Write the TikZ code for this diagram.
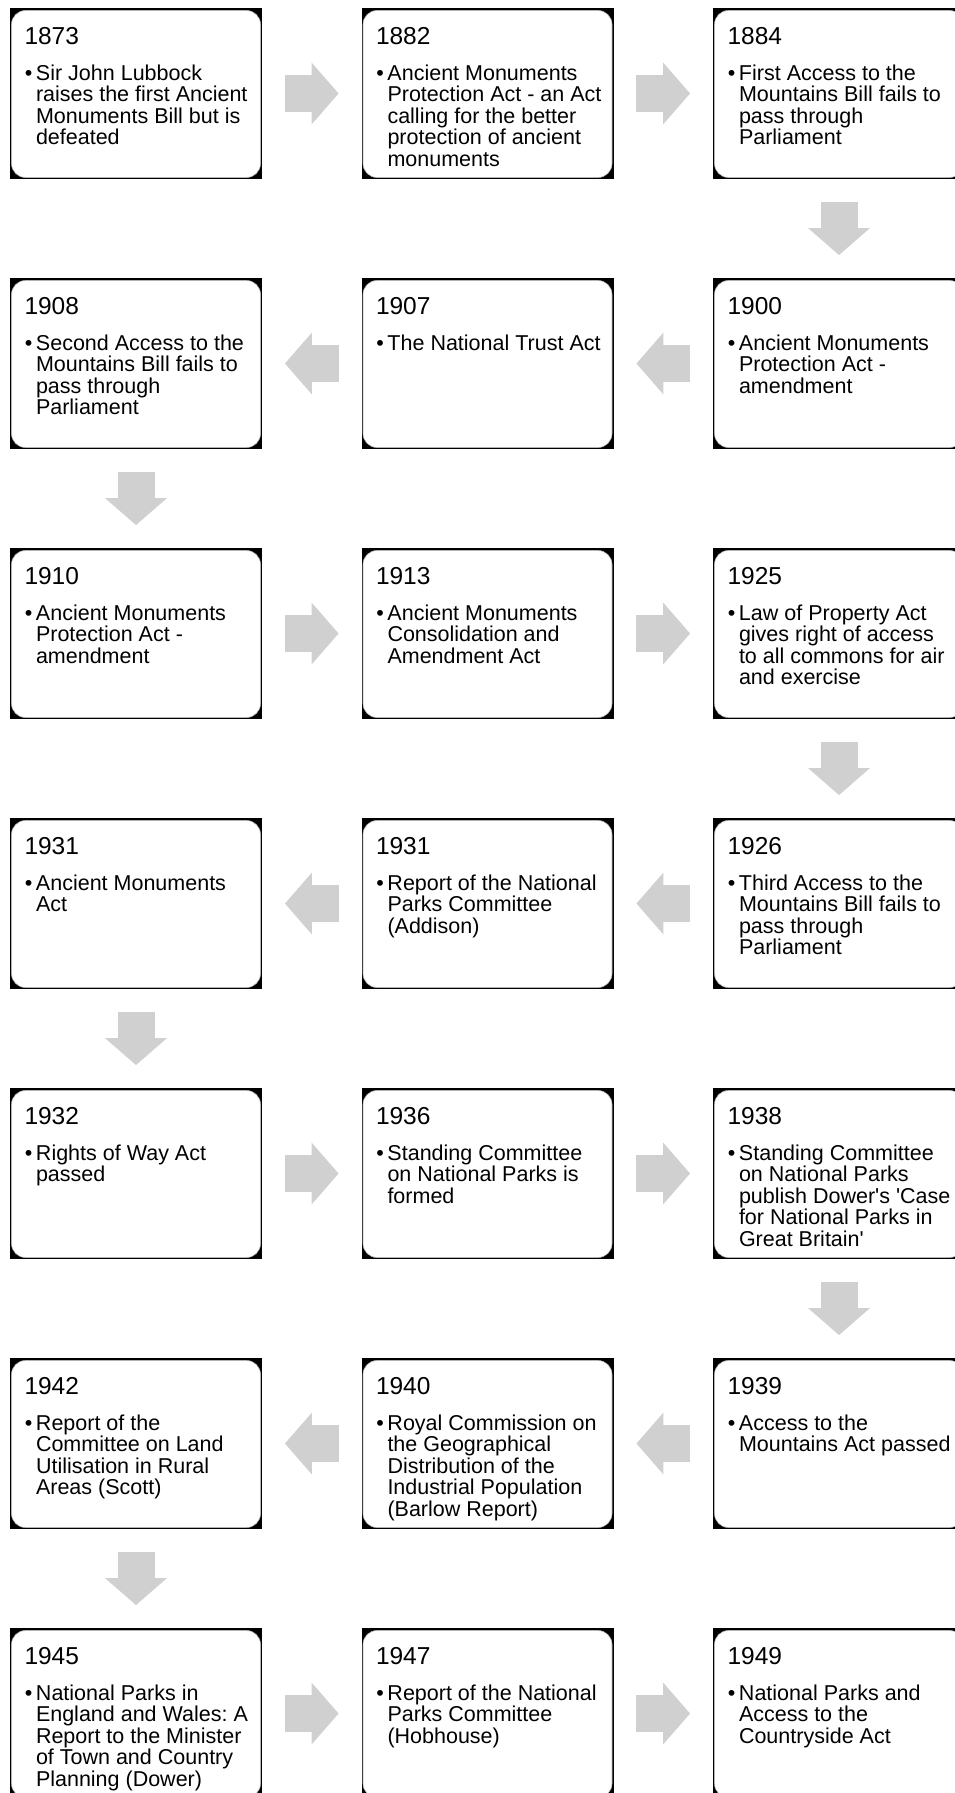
\documentclass[tikz,border=0pt]{standalone}
\usepackage{fontspec}
\setmainfont{Liberation Sans}
\usepackage{tikz}
\usetikzlibrary{arrows.meta, calc}
\definecolor{arrowgray}{RGB}{208, 208, 208}
\newcommand{\evbullet}{\rule{0pt}{16pt}\llap{\textbullet\hspace{3.5pt}}}
\frenchspacing

\begin{document}
\begin{tikzpicture}[
			x=1pt, y=-1pt,
			card/.style={rectangle, fill=black, minimum width=252pt, minimum height=171pt, inner sep=0pt,
				path picture={\fill[white, draw=gray!60, line width=0.6pt, rounded corners=14pt]
					([shift={(1.5pt,-2.5pt)}]path picture bounding box.north west) rectangle
					([shift={(-1.5pt,1.5pt)}]path picture bounding box.south east);}},
			year/.style={anchor=base west, inner sep=0pt, font=\fontsize{24.5}{28}\selectfont},
			entry/.style={anchor=north west, inner sep=0pt, align=left, font=\fontsize{21.5}{21.5}\selectfont},
			flow/.style={draw=arrowgray, line width=37pt, -{Triangle[width=62pt, length=27pt, line width=0pt]},
				shorten <=22.75pt, shorten >=22.75pt}
		]
		\clip (0,0) rectangle (955,1793);
		
		% Row 1
		\node[card] (e1873) at (136,93.5) {};
		\node[year] at ([xshift=14.5pt, yshift=-37pt]e1873.north west) {1873};
		\node[entry] at ([xshift=26pt, yshift=-56pt]e1873.north west) {\evbullet Sir John Lubbock\\raises the first Ancient\\Monuments Bill but is\\defeated};
		\node[card] (e1882) at (487.5,93.5) {};
		\node[year] at ([xshift=14.5pt, yshift=-37pt]e1882.north west) {1882};
		\node[entry] at ([xshift=26pt, yshift=-56pt]e1882.north west) {\evbullet Ancient Monuments\\Protection Act - an Act\\calling for the better\\protection of ancient\\monuments};
		\node[card] (e1884) at (839,93.5) {};
		\node[year] at ([xshift=14.5pt, yshift=-37pt]e1884.north west) {1884};
		\node[entry] at ([xshift=26pt, yshift=-56pt]e1884.north west) {\evbullet First Access to the\\Mountains Bill fails to\\pass through\\Parliament};
		
		% Row 2
		\node[card] (e1908) at (136,363.5) {};
		\node[year] at ([xshift=14.5pt, yshift=-37pt]e1908.north west) {1908};
		\node[entry] at ([xshift=26pt, yshift=-56pt]e1908.north west) {\evbullet Second Access to the\\Mountains Bill fails to\\pass through\\Parliament};
		\node[card] (e1907) at (487.5,363.5) {};
		\node[year] at ([xshift=14.5pt, yshift=-37pt]e1907.north west) {1907};
		\node[entry] at ([xshift=26pt, yshift=-56pt]e1907.north west) {\evbullet The National Trust Act};
		\node[card] (e1900) at (839,363.5) {};
		\node[year] at ([xshift=14.5pt, yshift=-37pt]e1900.north west) {1900};
		\node[entry] at ([xshift=26pt, yshift=-56pt]e1900.north west) {\evbullet Ancient Monuments\\Protection Act -\\amendment};
		
		% Row 3
		\node[card] (e1910) at (136,633.5) {};
		\node[year] at ([xshift=14.5pt, yshift=-37pt]e1910.north west) {1910};
		\node[entry] at ([xshift=26pt, yshift=-56pt]e1910.north west) {\evbullet Ancient Monuments\\Protection Act -\\amendment};
		\node[card] (e1913) at (487.5,633.5) {};
		\node[year] at ([xshift=14.5pt, yshift=-37pt]e1913.north west) {1913};
		\node[entry] at ([xshift=26pt, yshift=-56pt]e1913.north west) {\evbullet Ancient Monuments\\Consolidation and\\Amendment Act};
		\node[card] (e1925) at (839,633.5) {};
		\node[year] at ([xshift=14.5pt, yshift=-37pt]e1925.north west) {1925};
		\node[entry] at ([xshift=26pt, yshift=-56pt]e1925.north west) {\evbullet Law of Property Act\\gives right of access\\to all commons for air\\and exercise};
		
		% Row 4
		\node[card] (e1931act) at (136,903.5) {};
		\node[year] at ([xshift=14.5pt, yshift=-37pt]e1931act.north west) {1931};
		\node[entry] at ([xshift=26pt, yshift=-56pt]e1931act.north west) {\evbullet Ancient Monuments\\Act};
		\node[card] (e1931rep) at (487.5,903.5) {};
		\node[year] at ([xshift=14.5pt, yshift=-37pt]e1931rep.north west) {1931};
		\node[entry] at ([xshift=26pt, yshift=-56pt]e1931rep.north west) {\evbullet Report of the National\\Parks Committee\\(Addison)};
		\node[card] (e1926) at (839,903.5) {};
		\node[year] at ([xshift=14.5pt, yshift=-37pt]e1926.north west) {1926};
		\node[entry] at ([xshift=26pt, yshift=-56pt]e1926.north west) {\evbullet Third Access to the\\Mountains Bill fails to\\pass through\\Parliament};
		
		% Row 5
		\node[card] (e1932) at (136,1173.5) {};
		\node[year] at ([xshift=14.5pt, yshift=-37pt]e1932.north west) {1932};
		\node[entry] at ([xshift=26pt, yshift=-56pt]e1932.north west) {\evbullet Rights of Way Act\\passed};
		\node[card] (e1936) at (487.5,1173.5) {};
		\node[year] at ([xshift=14.5pt, yshift=-37pt]e1936.north west) {1936};
		\node[entry] at ([xshift=26pt, yshift=-56pt]e1936.north west) {\evbullet Standing Committee\\on National Parks is\\formed};
		\node[card] (e1938) at (839,1173.5) {};
		\node[year] at ([xshift=14.5pt, yshift=-37pt]e1938.north west) {1938};
		\node[entry] at ([xshift=26pt, yshift=-56pt]e1938.north west) {\evbullet Standing Committee\\on National Parks\\publish Dower\textquotesingle s \textquotesingle Case\\for National Parks in\\Great Britain\textquotesingle};
		
		% Row 6
		\node[card] (e1942) at (136,1443.5) {};
		\node[year] at ([xshift=14.5pt, yshift=-37pt]e1942.north west) {1942};
		\node[entry] at ([xshift=26pt, yshift=-56pt]e1942.north west) {\evbullet Report of the\\Committee on Land\\Utilisation in Rural\\Areas (Scott)};
		\node[card] (e1940) at (487.5,1443.5) {};
		\node[year] at ([xshift=14.5pt, yshift=-37pt]e1940.north west) {1940};
		\node[entry] at ([xshift=26pt, yshift=-56pt]e1940.north west) {\evbullet Royal Commission on\\the Geographical\\Distribution of the\\Industrial Population\\(Barlow Report)};
		\node[card] (e1939) at (839,1443.5) {};
		\node[year] at ([xshift=14.5pt, yshift=-37pt]e1939.north west) {1939};
		\node[entry] at ([xshift=26pt, yshift=-56pt]e1939.north west) {\evbullet Access to the\\Mountains Act passed};
		
		% Row 7
		\node[card] (e1945) at (136,1713.5) {};
		\node[year] at ([xshift=14.5pt, yshift=-37pt]e1945.north west) {1945};
		\node[entry] at ([xshift=26pt, yshift=-56pt]e1945.north west) {\evbullet National Parks in\\England and Wales: A\\Report to the Minister\\of Town and Country\\Planning (Dower)};
		\node[card] (e1947) at (487.5,1713.5) {};
		\node[year] at ([xshift=14.5pt, yshift=-37pt]e1947.north west) {1947};
		\node[entry] at ([xshift=26pt, yshift=-56pt]e1947.north west) {\evbullet Report of the National\\Parks Committee\\(Hobhouse)};
		\node[card] (e1949) at (839,1713.5) {};
		\node[year] at ([xshift=14.5pt, yshift=-37pt]e1949.north west) {1949};
		\node[entry] at ([xshift=26pt, yshift=-56pt]e1949.north west) {\evbullet National Parks and\\Access to the\\Countryside Act};
		
		% Timeline flow
		\draw[flow] (e1873) -- (e1882);
		\draw[flow] (e1882) -- (e1884);
		\draw[flow] (e1884) -- (e1900);
		\draw[flow] (e1900) -- (e1907);
		\draw[flow] (e1907) -- (e1908);
		\draw[flow] (e1908) -- (e1910);
		\draw[flow] (e1910) -- (e1913);
		\draw[flow] (e1913) -- (e1925);
		\draw[flow] (e1925) -- (e1926);
		\draw[flow] (e1926) -- (e1931rep);
		\draw[flow] (e1931rep) -- (e1931act);
		\draw[flow] (e1931act) -- (e1932);
		\draw[flow] (e1932) -- (e1936);
		\draw[flow] (e1936) -- (e1938);
		\draw[flow] (e1938) -- (e1939);
		\draw[flow] (e1939) -- (e1940);
		\draw[flow] (e1940) -- (e1942);
		\draw[flow] (e1942) -- (e1945);
		\draw[flow] (e1945) -- (e1947);
		\draw[flow] (e1947) -- (e1949);
		\end{tikzpicture}
\end{document}
